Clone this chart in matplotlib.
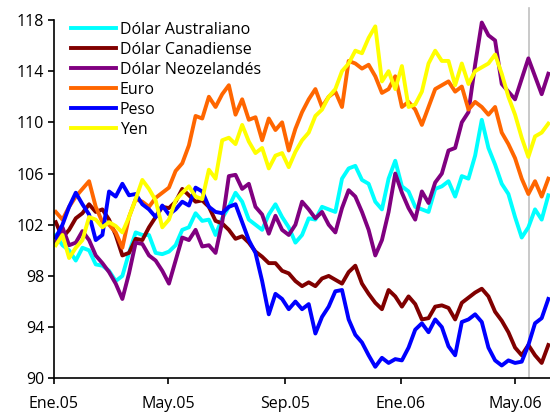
import pandas as pd
import matplotlib
matplotlib.use('Agg')
import matplotlib.pyplot as plt
from datetime import datetime

plt.rcParams['font.family'] = ['Open Sans', 'DejaVu Sans']

# datos semanales (índice base 100)
fechas = pd.date_range('2005-01-03', periods=75, freq='7D')

aud = [101.2, 100.4, 100.0, 99.2, 100.2, 100.0, 98.9, 98.8, 98.4, 97.6,
       98.0, 99.8, 101.4, 101.2, 101.2, 99.8, 99.7, 99.9, 100.4, 101.6,
       101.8, 102.9, 102.3, 102.4, 101.2, 102.5, 103.4, 104.5, 103.8, 102.4,
       102.0, 101.6, 102.8, 103.6, 102.6, 101.8, 100.6, 101.2, 102.5, 102.4,
       103.4, 103.2, 103.0, 105.6, 106.4, 106.6, 105.5, 105.2, 103.8, 103.2,
       105.6, 107.0, 105.0, 104.6, 103.4, 103.2, 103.0, 104.8, 105.0, 105.4,
       104.2, 105.8, 105.6, 107.4, 110.2, 108.0, 106.7, 105.2, 104.4, 102.6,
       101.0, 101.8, 103.2, 102.4, 104.3]

cad = [102.2, 101.0, 101.6, 102.5, 102.9, 103.6, 103.0, 103.2, 102.4, 101.2,
       99.6, 99.8, 100.9, 100.8, 101.8, 102.6, 103.4, 103.3, 103.8, 104.8,
       104.3, 103.8, 103.9, 103.4, 102.3, 102.1, 101.6, 100.9, 101.1, 100.6,
       99.9, 99.5, 99.0, 99.0, 98.4, 98.2, 97.6, 97.2, 97.5, 97.2,
       97.8, 98.0, 97.7, 97.4, 98.3, 98.8, 97.4, 96.6, 95.9, 95.4,
       96.9, 96.4, 95.6, 96.4, 95.8, 94.6, 94.7, 95.6, 95.7, 95.5,
       94.6, 95.9, 96.3, 96.7, 97.0, 96.4, 95.2, 94.5, 93.6, 92.4,
       91.8, 92.6, 91.8, 91.2, 92.6]

nzd = [100.6, 101.8, 100.4, 100.6, 101.5, 100.8, 99.6, 99.0, 98.3, 97.4,
       96.2, 98.2, 100.6, 100.5, 99.6, 99.2, 98.4, 97.4, 99.2, 101.0,
       100.8, 101.6, 100.3, 100.4, 99.8, 102.2, 105.8, 105.9, 104.8, 105.2,
       103.4, 102.8, 101.3, 102.7, 101.6, 101.2, 102.0, 103.8, 103.2, 102.5,
       103.0, 102.0, 101.4, 103.3, 104.7, 104.2, 103.0, 101.6, 99.6, 100.8,
       103.0, 106.0, 104.5, 103.3, 102.4, 104.6, 103.7, 105.3, 106.0, 107.8,
       108.0, 110.0, 110.8, 114.5, 117.8, 116.8, 116.4, 113.0, 112.4, 111.8,
       113.4, 115.0, 113.6, 112.2, 113.8]

euro = [103.0, 102.4, 103.4, 104.2, 104.8, 105.4, 103.4, 102.2, 102.0, 101.4,
        100.2, 102.6, 104.0, 103.8, 103.4, 104.1, 104.5, 104.9, 106.2, 106.8,
        108.2, 110.5, 110.3, 112.0, 111.2, 112.2, 112.9, 110.6, 111.8, 110.2,
        110.4, 108.6, 110.3, 109.4, 110.0, 107.8, 109.5, 110.8, 111.8, 112.6,
        111.2, 112.0, 112.4, 111.2, 114.8, 114.6, 114.2, 114.5, 113.6, 112.3,
        112.6, 113.6, 111.2, 111.6, 111.0, 109.8, 111.2, 112.6, 112.9, 113.2,
        112.4, 112.8, 111.0, 111.6, 111.2, 110.6, 111.2, 109.2, 108.3, 107.2,
        105.6, 104.4, 105.4, 104.2, 105.6]

peso = [101.0, 102.0, 103.4, 104.5, 103.6, 102.8, 100.8, 101.2, 104.6, 104.2,
        105.2, 104.3, 104.4, 103.6, 103.2, 102.6, 103.5, 102.8, 103.2, 103.8,
        103.5, 104.9, 104.6, 103.4, 103.0, 102.9, 103.4, 103.6, 102.2, 100.8,
        99.8, 97.6, 95.0, 96.6, 96.2, 95.4, 96.0, 95.4, 95.8, 93.5,
        94.8, 95.6, 96.8, 96.9, 94.6, 93.4, 92.8, 91.8, 90.9, 91.6,
        91.2, 91.5, 91.4, 92.4, 93.8, 94.3, 93.6, 94.6, 94.0, 92.5,
        91.8, 94.4, 94.6, 95.0, 94.4, 92.4, 91.4, 91.0, 91.4, 91.2,
        91.3, 92.6, 94.3, 94.7, 96.2]

yen = [100.4, 101.2, 99.4, 100.2, 100.8, 102.6, 102.4, 101.8, 102.2, 101.9,
       101.4, 102.6, 104.0, 105.5, 104.8, 103.9, 101.8, 102.4, 103.9, 104.5,
       105.0, 104.2, 104.0, 106.3, 105.6, 108.6, 108.8, 108.3, 109.8, 108.5,
       107.6, 108.0, 106.4, 107.4, 107.6, 106.5, 107.7, 108.6, 109.2, 110.5,
       111.0, 112.0, 112.6, 114.0, 114.6, 115.6, 115.4, 116.6, 117.5, 113.2,
       114.0, 112.6, 114.4, 111.2, 111.4, 112.4, 114.6, 115.6, 114.8, 114.8,
       112.9, 114.6, 113.0, 114.0, 114.3, 114.6, 115.3, 113.8, 112.0, 110.6,
       108.8, 107.3, 108.9, 109.2, 109.9]

etiquetas = ['Dólar Australiano', 'Dólar Canadiense', 'Dólar Neozelandés',
             'Euro', 'Peso', 'Yen']
colores = ['#00FFFF', '#800000', '#800080', '#FF6600', '#0000FF', '#FFFF00']
series = [aud, cad, nzd, euro, peso, yen]

meses = [datetime(2005, 1, 1), datetime(2005, 5, 1), datetime(2005, 9, 1),
         datetime(2006, 1, 1), datetime(2006, 5, 1)]
meses_txt = ['Ene.05', 'May.05', 'Sep.05', 'Ene.06', 'May.06']
fecha_marca = datetime(2006, 5, 16)

fig = plt.figure(figsize=(5.5, 4.16), dpi=100)
ax = fig.add_axes([0.098, 0.0906, 0.902, 0.8614])

ax.axvline(fecha_marca, ymin=0, ymax=1.033, color='#C0C0C0', lw=1.2,
           clip_on=False, zorder=1)

for valores, color, nombre in zip(series, colores, etiquetas):
    ax.plot(fechas, valores, color=color, lw=2.8, label=nombre, zorder=2)

ax.set_xlim(datetime(2005, 1, 1), datetime(2006, 6, 6, 18))
ax.set_ylim(90, 118)
ax.set_yticks(range(90, 119, 4))
ax.set_xticks(meses)
ax.set_xticklabels(meses_txt)

for lado in ['top', 'right']:
    ax.spines[lado].set_visible(False)
for lado in ['left', 'bottom']:
    ax.spines[lado].set_linewidth(1.2)

ax.tick_params(axis='both', direction='out', length=4, width=1.2,
               labelsize=11.5, colors='black')
ax.tick_params(axis='x', pad=9)
ax.tick_params(axis='y', pad=3)

ax.legend(loc='upper left', bbox_to_anchor=(0.035, 0.995), frameon=False,
          fontsize=11.5, handlelength=2.8, handletextpad=0.25,
          labelspacing=0.25, borderpad=0, borderaxespad=0)

fig.savefig('out.png', dpi=100)
